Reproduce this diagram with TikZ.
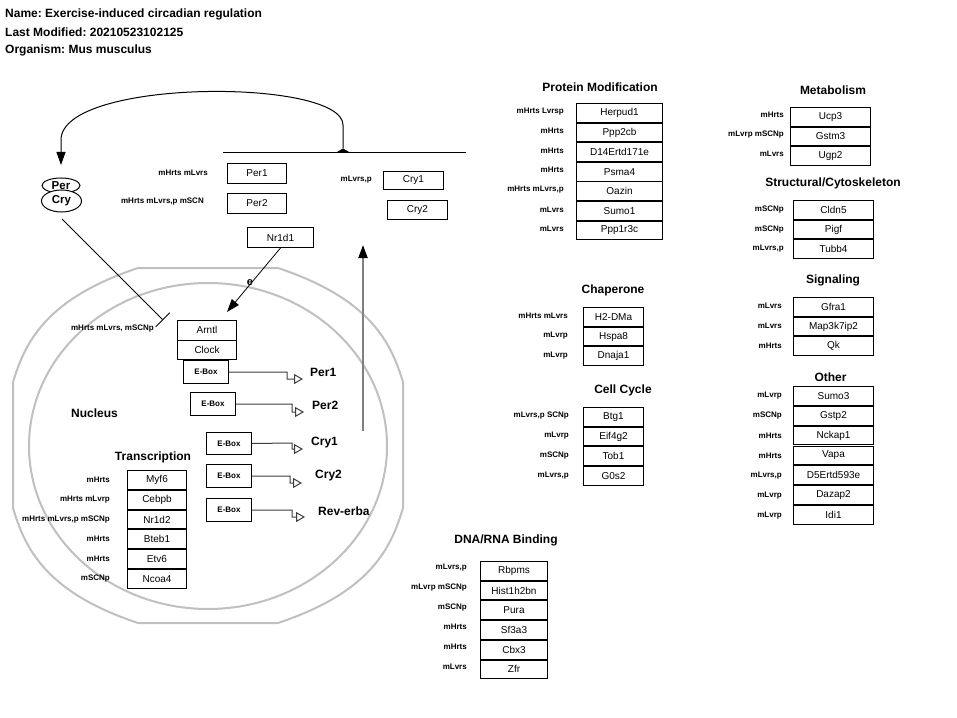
\documentclass[tikz,border=0pt]{standalone}
\usepackage{fontspec}
\setmainfont{Liberation Sans}
\usetikzlibrary{arrows.meta,shapes.geometric}
\definecolor{nucgray}{RGB}{192,192,192}
\definecolor{arrgray}{RGB}{128,128,128}
\definecolor{txgray}{RGB}{60,60,60}
\newcommand\fhead{\fontsize{12bp}{14bp}\selectfont\bfseries}
\newcommand\fgene{\fontsize{10bp}{12bp}\selectfont}
\newcommand\flab{\fontsize{8bp}{9bp}\selectfont\bfseries}
\frenchspacing
\begin{document}
\begin{tikzpicture}[x=1bp,y=-1bp,
  genebox/.style={draw=black, line width=1bp, fill=white, inner sep=0pt, anchor=north west, minimum height=18.7bp, font=\fgene},
  lab/.style={font=\flab, inner sep=0pt, anchor=east},
  ttl/.style={font=\fhead, inner sep=0pt},
  hdr/.style={font=\fhead, inner sep=0pt, anchor=west},
  eboxnode/.style={draw=black, line width=1bp, inner sep=0pt, anchor=north west, minimum width=45bp, minimum height=23bp, font=\fontsize{8bp}{9bp}\selectfont\bfseries},
  txarrow/.style={draw=txgray, line width=1bp, -{Triangle[open, length=9bp, width=10bp]}},
  tgene/.style={font=\fhead, inner sep=0pt, anchor=west},
  blackarrow/.style={line width=1bp, -{Triangle[length=13bp, width=9bp]}}
]
\useasboundingbox (0,0) rectangle (957,718);
\fill[white] (0,0) rectangle (957,718);

% header
\node[hdr] (h1) at (5,14) {Name: Exercise-induced circadian regulation};
\node[hdr] (h2) at (5,32) {Last Modified: 20210523102125};
\node[hdr] (h3) at (5,50) {Organism: Mus musculus};

% nucleus shapes
\draw[nucgray, line width=2bp] (138,268) -- (278,268)
  .. controls (371,299) and (391,343) .. (403,382) -- (403,508)
  .. controls (391,548) and (371,592) .. (278,623) -- (138,623)
  .. controls (45,592) and (25,548) .. (13,508) -- (13,382)
  .. controls (25,343) and (45,299) .. (138,268) -- cycle;
\draw[nucgray, line width=2bp] (208,446) ellipse [x radius=179bp, y radius=163bp];
\node[ttl] (nucleus) at (94.5,413) {Nucleus};

% Per / Cry complex
\node[draw, ellipse, line width=1bp, minimum width=38bp, minimum height=15bp, inner sep=0pt, font=\fontsize{11.5bp}{13bp}\selectfont\bfseries] (per) at (61,185.5) {Per};
\node[draw, ellipse, line width=1bp, fill=white, minimum width=40bp, minimum height=22bp, inner sep=0pt, font=\fontsize{11.5bp}{13bp}\selectfont\bfseries] (cry) at (61.5,201) {Cry};

% top genes
\node[genebox, minimum width=59bp, minimum height=20bp] (tper1) at (227,163) {Per1};
\node[lab] (tper1l) at (208,173) {mHrts mLvrs};
\node[genebox, minimum width=59bp, minimum height=20bp] (tper2) at (227,193) {Per2};
\node[lab] (tper2l) at (204,202) {mHrts mLvrs,p mSCN};
\node[genebox, minimum width=60bp, minimum height=18bp] (tcry1) at (383,171) {Cry1};
\node[lab] (tcry1l) at (372,180) {mLvrs,p};
\node[genebox, minimum width=60bp, minimum height=19bp] (tcry2) at (387,200) {Cry2};
\node[genebox, minimum width=66bp, minimum height=20bp] (nr1d1) at (247,227) {Nr1d1};

% bracket and feedback arc
\coordinate (bk) at (343,148.5);
\coordinate (ptip) at (61,165);
\draw[line width=1.5bp] (223,152.5) -- (466,152.5);
\fill (336,152.5) -- (343,148.5) -- (350,152.5) -- cycle;
\draw[blackarrow] (bk) -- (343,125) .. controls (343,78) and (61,78) .. (61,140) -- (ptip);

% Arntl / Clock
\node[genebox, minimum width=59bp, minimum height=19.5bp] (arntl) at (177,320) {Arntl};
\node[genebox, minimum width=59bp, minimum height=19bp] (clock) at (177,340) {Clock};
\node[lab] (arntll) at (154,329) {mHrts mLvrs, mSCNp};

% inhibition
\coordinate (inhS) at (62,219);
\coordinate (inhE) at (163,320);
\draw[line width=0.8bp, -{Bar[width=20bp]}] (inhS) -- (inhE);

% Nr1d1 activation
\coordinate (nrE) at (227,312);
\draw[blackarrow, line width=0.8bp] (nr1d1.south) -- (nrE);
\node[font=\fontsize{11bp}{13bp}\selectfont\bfseries, inner sep=0pt] (elab) at (250,283) {e};

% gray export arrow
\coordinate (vaS) at (363,431);
\coordinate (vaE) at (363,245);
\draw[arrgray, line width=2bp, -{Triangle[length=13bp, width=9bp, color=black]}] (vaS) -- (vaE);

% E-boxes and transcription arrows
\node[eboxnode] (eb1) at (183,360) {E-Box};
\node[eboxnode] (eb2) at (190,392) {E-Box};
\node[eboxnode, minimum height=22bp] (eb3) at (206,432) {E-Box};
\node[eboxnode] (eb4) at (206,464) {E-Box};
\node[eboxnode] (eb5) at (206,498) {E-Box};
\node[tgene] (gper1) at (310,372) {Per1};
\node[tgene] (gper2) at (312,405) {Per2};
\node[tgene] (gcry1) at (311,443) {Cry1};
\node[tgene] (gcry2) at (315,476) {Cry2};
\node[tgene] (grev) at (318,511) {Rev-erba};
\coordinate (t1) at (303,379);
\coordinate (t2) at (304,412);
\coordinate (t3) at (303,449);
\coordinate (t4) at (302,483);
\coordinate (t5) at (305,517);
\draw[txarrow] (eb1.east) -- (287,372) -- (287,379) -- (t1);
\draw[txarrow] (eb2.east) -- (292,404) -- (292,412) -- (t2);
\draw[txarrow] (eb3.east) -- (292,443) -- (292,449) -- (t3);
\draw[txarrow] (eb4.east) -- (290,476) -- (290,483) -- (t4);
\draw[txarrow] (eb5.east) -- (292,510) -- (292,517) -- (t5);

% Transcription
\node[ttl] (ttr) at (153,457) {Transcription};
\foreach \g/\l [count=\i] in {Myf6/mHrts, Cebpb/{mHrts mLvrp}, Nr1d2/{mHrts mLvrs,p mSCNp}, Bteb1/mHrts, Etv6/mHrts, Ncoa4/mSCNp}{
  \node[genebox, minimum width=59bp] (tr\i) at (127,{470+(\i-1)*19.8}) {\g};
  \node[lab] (trl\i) at (110,{470+(\i-1)*19.8+9.5}) {\l};
}

% Protein Modification
\node[ttl] (tpm) at (600,87) {Protein Modification};
\foreach \g/\l [count=\i] in {Herpud1/{mHrts Lvrsp}, Ppp2cb/mHrts, D14Ertd171e/mHrts, Psma4/mHrts, Oazin/{mHrts mLvrs,p}, Sumo1/mLvrs, Ppp1r3c/mLvrs}{
  \node[genebox, minimum width=86bp] (pm\i) at (576,{103+(\i-1)*19.6}) {\g};
  \node[lab] (pml\i) at (564,{103+(\i-1)*19.6+8.3}) {\l};
}

% Metabolism
\node[ttl] (tme) at (833,90) {Metabolism};
\foreach \g/\l [count=\i] in {Ucp3/mHrts, Gstm3/{mLvrp mSCNp}, Ugp2/mLvrs}{
  \node[genebox, minimum width=80bp] (me\i) at (790,{107+(\i-1)*19.7}) {\g};
  \node[lab] (mel\i) at (784,{107+(\i-1)*19.7+7.5}) {\l};
}

% Structural/Cytoskeleton
\node[ttl] (tsc) at (833,183) {Structural/Cytoskeleton};
\foreach \g/\l [count=\i] in {Cldn5/mSCNp, Pigf/mSCNp, Tubb4/{mLvrs,p}}{
  \node[genebox, minimum width=80bp] (sc\i) at (793,{200+(\i-1)*19.7}) {\g};
  \node[lab] (scl\i) at (784,{200+(\i-1)*19.7+9.5}) {\l};
}

% Signaling
\node[ttl] (tsg) at (833,280) {Signaling};
\foreach \g/\l [count=\i] in {Gfra1/mLvrs, Map3k7ip2/mLvrs, Qk/mHrts}{
  \node[genebox, minimum width=80bp] (sg\i) at (793,{297+(\i-1)*19.7}) {\g};
  \node[lab] (sgl\i) at (782,{297+(\i-1)*19.7+9}) {\l};
}

% Other
\node[ttl] (tot) at (830.5,377) {Other};
\foreach \g/\l [count=\i] in {Sumo3/mLvrp, Gstp2/mSCNp, Nckap1/mHrts, Vapa/mHrts, D5Ertd593e/{mLvrs,p}, Dazap2/mLvrp, Idi1/mLvrp}{
  \node[genebox, minimum width=80bp] (ot\i) at (793,{386+(\i-1)*19.85}) {\g};
  \node[lab] (otl\i) at (782,{386+(\i-1)*19.85+10}) {\l};
}

% Chaperone
\node[ttl] (tch) at (613,290) {Chaperone};
\foreach \g/\l [count=\i] in {H2-DMa/{mHrts mLvrs}, Hspa8/mLvrp, Dnaja1/mLvrp}{
  \node[genebox, minimum width=60bp] (ch\i) at (583,{307+(\i-1)*19.7}) {\g};
  \node[lab] (chl\i) at (568,{307+(\i-1)*19.7+9}) {\l};
}

% Cell Cycle
\node[ttl] (tcc) at (623,390) {Cell Cycle};
\foreach \g/\l [count=\i] in {Btg1/{mLvrs,p SCNp}, Eif4g2/mLvrp, Tob1/mSCNp, G0s2/{mLvrs,p}}{
  \node[genebox, minimum width=60bp] (cc\i) at (583,{407+(\i-1)*19.7}) {\g};
  \node[lab] (ccl\i) at (569,{407+(\i-1)*19.7+9}) {\l};
}

% DNA/RNA Binding
\node[ttl] (tdn) at (506,540) {DNA/RNA Binding};
\foreach \g/\l [count=\i] in {Rbpms/{mLvrs,p}, Hist1h2bn/{mLvrp mSCNp}, Pura/mSCNp, Sf3a3/mHrts, Cbx3/mHrts, Zfr/mLvrs}{
  \node[genebox, minimum width=67bp] (dn\i) at (480,{561+(\i-1)*19.7}) {\g};
  \node[lab] (dnl\i) at (467,{561+(\i-1)*19.7+7}) {\l};
}
\end{tikzpicture}
\end{document}
